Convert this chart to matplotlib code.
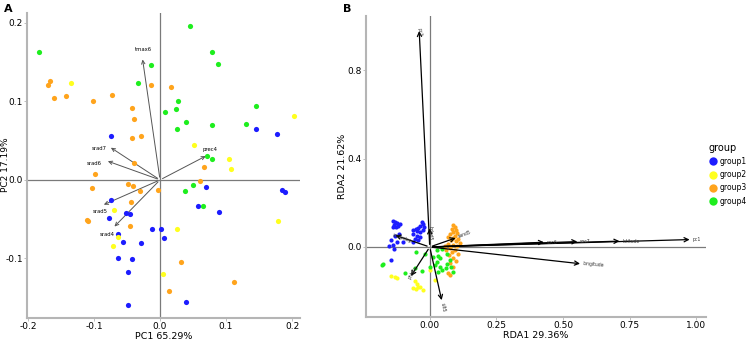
import matplotlib
matplotlib.use("Agg")
import matplotlib.pyplot as plt
from matplotlib.lines import Line2D

colors = {"group1": "#1c1cff", "group2": "#ffff1e", "group3": "#ffa41c", "group4": "#1eee1e"}
groups = ["group1", "group2", "group3", "group4"]

# ---- panel A: PCA scores ----
pca_pts = {
    "group1": [(-0.074, 0.056), (0.145, 0.065), (0.177, 0.058), (0.070, -0.009), (-0.074, -0.025),
               (-0.051, -0.042), (-0.046, -0.043), (-0.078, -0.049), (0.058, -0.033), (0.089, -0.041),
               (0.184, -0.013), (0.190, -0.016), (-0.012, -0.062), (0.002, -0.063), (0.006, -0.074),
               (-0.063, -0.069), (-0.056, -0.079), (-0.029, -0.081), (-0.063, -0.100), (-0.042, -0.101),
               (-0.048, -0.118), (0.040, -0.155), (-0.048, -0.159)],
    "group2": [(-0.135, 0.124), (0.203, 0.082), (0.051, 0.045), (0.105, 0.026), (0.107, 0.014),
               (-0.069, -0.038), (0.179, -0.052), (0.026, -0.062), (-0.064, -0.073), (-0.071, -0.084),
               (0.004, -0.120)],
    "group3": [(-0.166, 0.126), (-0.170, 0.121), (-0.161, 0.105), (-0.142, 0.107), (-0.102, 0.100),
               (-0.073, 0.108), (-0.043, 0.092), (-0.039, 0.077), (-0.042, 0.054), (-0.029, 0.056),
               (-0.039, 0.022), (-0.098, 0.007), (-0.013, 0.121), (0.016, 0.119), (0.067, 0.016),
               (-0.049, -0.005), (-0.041, -0.008), (-0.103, -0.010), (-0.030, -0.014), (-0.003, -0.013),
               (0.060, -0.002), (-0.044, -0.028), (-0.111, -0.051), (-0.109, -0.053), (-0.045, -0.059),
               (0.032, -0.104), (0.112, -0.130), (0.014, -0.142)],
    "group4": [(-0.183, 0.163), (-0.013, 0.146), (-0.033, 0.124), (0.045, 0.196), (0.078, 0.163),
               (0.088, 0.148), (0.027, 0.100), (0.024, 0.090), (0.007, 0.086), (0.039, 0.074),
               (0.026, 0.065), (0.079, 0.070), (0.146, 0.094), (0.130, 0.071), (0.071, 0.031),
               (0.079, 0.027), (0.050, -0.007), (0.038, -0.014), (0.065, -0.033)],
}
pca_vars = ["tmax6", "srad7", "srad6", "prec4", "srad5", "srad4"]
pca_vx = [-0.027, -0.078, -0.083, 0.073, -0.089, -0.072]
pca_vy = [0.157, 0.043, 0.025, 0.032, -0.033, -0.062]

# ---- panel B: RDA scores ----
rda_pts = {
    "group1": [(-0.139, 0.116), (-0.130, 0.112), (-0.121, 0.107), (-0.134, 0.101), (-0.118, 0.097),
               (-0.126, 0.092), (-0.111, 0.104), (-0.136, 0.089), (-0.130, 0.052), (-0.114, 0.057),
               (-0.146, 0.030), (-0.124, 0.022), (-0.136, 0.007), (-0.151, 0.003), (-0.134, -0.007),
               (-0.145, -0.060), (-0.030, 0.112), (-0.024, 0.104), (-0.036, 0.097), (-0.043, 0.086),
               (-0.051, 0.082), (-0.061, 0.075), (-0.049, 0.072), (-0.036, 0.067), (-0.026, 0.077),
               (-0.021, 0.089), (-0.064, 0.060), (-0.046, 0.052), (-0.036, 0.045), (-0.055, 0.037),
               (-0.099, 0.022), (-0.061, 0.022), (-0.043, 0.030)],
    "group2": [(-0.146, -0.131), (-0.130, -0.137), (-0.121, -0.142), (-0.055, -0.156), (-0.049, -0.167),
               (-0.043, -0.179), (-0.061, -0.186), (-0.051, -0.191), (-0.036, -0.182), (-0.024, -0.194),
               (0.001, -0.104), (0.020, -0.150)],
    "group3": [(0.089, 0.101), (0.095, 0.089), (0.082, 0.082), (0.099, 0.077), (0.086, 0.067),
               (0.076, 0.060), (0.104, 0.063), (0.095, 0.052), (0.070, 0.045), (0.089, 0.042),
               (0.107, 0.037), (0.080, 0.030), (0.099, 0.027), (0.114, 0.018), (0.070, 0.015),
               (0.089, 0.007), (0.104, 0.003), (0.076, -0.003), (0.061, -0.012), (0.095, -0.015),
               (0.082, -0.022), (0.107, -0.030), (0.074, -0.037), (0.089, -0.052), (0.099, -0.063),
               (0.076, -0.074), (0.086, -0.089), (0.070, -0.119), (0.076, -0.127), (0.057, 0.003)],
    "group4": [(-0.174, -0.077), (-0.180, -0.082), (-0.051, -0.022), (-0.018, -0.030), (0.014, -0.045),
               (0.032, -0.042), (0.039, -0.052), (0.026, -0.067), (0.020, -0.082), (0.039, -0.089),
               (0.045, -0.104), (0.032, -0.112), (0.061, -0.097), (0.076, -0.060), (0.064, -0.077),
               (0.079, -0.092), (0.086, -0.112), (-0.030, -0.107), (-0.055, -0.097), (-0.093, -0.119),
               (0.001, -0.089), (0.026, -0.012), (0.045, -0.007), (0.064, -0.030)],
}
rda_vars = ["pc1", "latitude", "soc7", "soc6", "longitude", "pc2", "bdod5", "snowdep", "sand5", "phh2o", "silt5"]
rda_vx = [0.985, 0.722, 0.564, 0.439, 0.574, -0.040, 0.000, -0.139, 0.107, -0.076, 0.047]
rda_vy = [0.034, 0.027, 0.025, 0.022, -0.077, 0.991, 0.097, 0.057, 0.045, -0.142, -0.253]
rda_rot = [0, 0, 0, 0, -5, -85, -90, -20, 20, 60, -80]


def style(ax):
    for s in ["top", "right"]:
        ax.spines[s].set_visible(False)
    for s in ["left", "bottom"]:
        ax.spines[s].set_color("#b5b5b5")
        ax.spines[s].set_linewidth(1.5)
    ax.tick_params(length=2, width=0.6, color="#b5b5b5", labelsize=6.5, pad=1)
    ax.axhline(0, color="#7a7a7a", lw=0.9, zorder=1)
    ax.axvline(0, color="#7a7a7a", lw=0.9, zorder=1)


fig = plt.figure(figsize=(7.5, 3.4), dpi=100)

# panel A
axA = fig.add_axes([27 / 750, 1 - 318 / 340, 273 / 750, 305 / 340])
style(axA)
for g in groups:
    xs = [p[0] for p in pca_pts[g]]
    ys = [p[1] for p in pca_pts[g]]
    axA.scatter(xs, ys, s=14, color=colors[g], linewidths=0, zorder=3)
for name, vx, vy in zip(pca_vars, pca_vx, pca_vy):
    axA.annotate("", xy=(vx, vy), xytext=(0, 0),
                 arrowprops=dict(arrowstyle="->,head_length=0.25,head_width=0.12", color="#555555", lw=0.7),
                 zorder=2)
axA.text(pca_vx[0] + 0.002, pca_vy[0] + 0.006, pca_vars[0], fontsize=3.8, ha="center", va="bottom")
axA.text(pca_vx[1] - 0.003, pca_vy[1] - 0.003, pca_vars[1], fontsize=3.8, ha="right", va="center")
axA.text(pca_vx[2] - 0.005, pca_vy[2] - 0.004, pca_vars[2], fontsize=3.8, ha="right", va="center")
axA.text(pca_vx[3] + 0.003, pca_vy[3] + 0.004, pca_vars[3], fontsize=3.8, ha="center", va="bottom")
axA.text(pca_vx[4] - 0.002, pca_vy[4] - 0.004, pca_vars[4], fontsize=3.8, ha="center", va="top")
axA.text(pca_vx[5] - 0.008, pca_vy[5] - 0.004, pca_vars[5], fontsize=3.8, ha="center", va="top")
axA.set_xlim(-0.2015, 0.212)
axA.set_ylim(-0.176, 0.2127)
axA.set_xticks([-0.2, -0.1, 0.0, 0.1, 0.2])
axA.set_xticklabels(["-0.2", "-0.1", "0.0", "0.1", "0.2"])
axA.set_yticks([-0.1, 0.0, 0.1, 0.2])
axA.set_yticklabels(["-0.1", "0.0", "0.1", "0.2"])
axA.set_xlabel("PC1 65.29%", fontsize=6.8, labelpad=0.5)
fig.text(1 / 750, 1 - 165 / 340, "PC2 17.19%", fontsize=6.5, rotation=90, ha="left", va="center")

# panel B
axB = fig.add_axes([366 / 750, 1 - 317 / 340, 340 / 750, 301 / 340])
style(axB)
for g in groups:
    xs = [p[0] for p in rda_pts[g]]
    ys = [p[1] for p in rda_pts[g]]
    axB.scatter(xs, ys, s=9, color=colors[g], linewidths=0, zorder=3)
for name, vx, vy, rot in zip(rda_vars, rda_vx, rda_vy, rda_rot):
    axB.annotate("", xy=(vx, vy), xytext=(0, 0),
                 arrowprops=dict(arrowstyle="->,head_length=0.3,head_width=0.15", color="black", lw=0.9),
                 zorder=4)
    axB.text(vx, vy, name, fontsize=3.3, rotation=rot, rotation_mode="anchor",
             ha="left", va="center", color="#333333", zorder=5)
axB.set_xlim(-0.239, 1.036)
axB.set_ylim(-0.317, 1.046)
axB.set_xticks([0.0, 0.25, 0.5, 0.75, 1.0])
axB.set_xticklabels(["0.00", "0.25", "0.50", "0.75", "1.00"])
axB.set_yticks([0.0, 0.4, 0.8])
axB.set_yticklabels(["0.0", "0.4", "0.8"])
axB.set_xlabel("RDA1 29.36%", fontsize=6.8, labelpad=0.5)
axB.set_ylabel("RDA2 21.62%", fontsize=6.8, labelpad=0.5)

fig.text(4 / 750, 1 - 9 / 340, "A", fontsize=8, fontweight="bold", va="center")
fig.text(343 / 750, 1 - 9 / 340, "B", fontsize=8, fontweight="bold", va="center")

handles = [Line2D([], [], marker="o", ls="", markersize=6, markerfacecolor=colors[g],
                  markeredgewidth=0, label=g) for g in groups]
leg = fig.legend(handles=handles, title="group", loc="upper left",
                 bbox_to_anchor=(705 / 750, 1 - 139 / 340), frameon=False,
                 fontsize=5.5, title_fontsize=7, handletextpad=0.2, labelspacing=0.55,
                 borderpad=0, handlelength=1.2)
leg._legend_box.align = "left"

fig.savefig("out.png", dpi=100)
